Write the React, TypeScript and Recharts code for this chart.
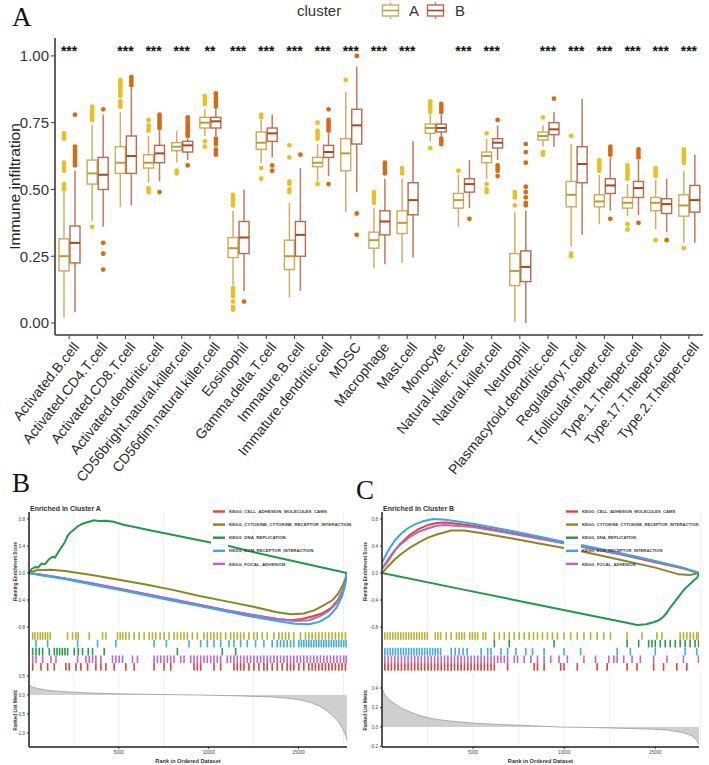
import React from 'react'
import {
  ComposedChart, Bar, XAxis, YAxis, ReferenceDot,
  LineChart, Line, ScatterChart, Scatter, AreaChart, Area, CartesianGrid,
} from 'recharts'

const SANS = '"Liberation Sans", Arial, sans-serif'
const SERIF = '"Liberation Serif", "Times New Roman", serif'

// ---------- immune infiltration (panel A) ----------
const cellTypes = [
  'Activated.B.cell', 'Activated.CD4.T.cell', 'Activated.CD8.T.cell', 'Activated.dendritic.cell',
  'CD56bright.natural.killer.cell', 'CD56dim.natural.killer.cell', 'Eosinophil', 'Gamma.delta.T.cell',
  'Immature.B.cell', 'Immature.dendritic.cell', 'MDSC', 'Macrophage', 'Mast.cell', 'Monocyte',
  'Natural.killer.T.cell', 'Natural.killer.cell', 'Neutrophil', 'Plasmacytoid.dendritic.cell',
  'Regulatory.T.cell', 'T.follicular.helper.cell', 'Type.1.T.helper.cell', 'Type.17.T.helper.cell',
  'Type.2.T.helper.cell',
]
const significance = [
  '***', '', '***', '***', '***', '**', '***', '***', '***', '***', '***', '***',
  '***', '', '***', '***', '', '***', '***', '***', '***', '***', '***',
]
// [lower whisker, Q1, median, Q3, upper whisker]
const clusterA = [
  [0.02, 0.195, 0.25, 0.315, 0.49], [0.38, 0.52, 0.56, 0.61, 0.74], [0.435, 0.56, 0.6, 0.66, 0.79],
  [0.525, 0.58, 0.6, 0.63, 0.7], [0.6, 0.645, 0.66, 0.675, 0.72], [0.7, 0.73, 0.75, 0.77, 0.8],
  [0.14, 0.245, 0.28, 0.32, 0.42], [0.6, 0.65, 0.675, 0.715, 0.76], [0.095, 0.2, 0.25, 0.31, 0.45],
  [0.53, 0.585, 0.6, 0.62, 0.67], [0.415, 0.57, 0.635, 0.69, 0.865], [0.205, 0.28, 0.31, 0.34, 0.43],
  [0.225, 0.335, 0.375, 0.42, 0.54], [0.68, 0.71, 0.73, 0.745, 0.78], [0.36, 0.43, 0.46, 0.485, 0.555],
  [0.54, 0.6, 0.625, 0.64, 0.69], [0.005, 0.14, 0.195, 0.26, 0.415], [0.66, 0.685, 0.7, 0.715, 0.74],
  [0.285, 0.435, 0.48, 0.53, 0.67], [0.37, 0.435, 0.455, 0.48, 0.555], [0.4, 0.43, 0.45, 0.47, 0.52],
  [0.35, 0.42, 0.45, 0.47, 0.535], [0.3, 0.4, 0.44, 0.48, 0.57],
]
const clusterB = [
  [0.04, 0.225, 0.3, 0.363, 0.57], [0.36, 0.5, 0.555, 0.62, 0.78], [0.44, 0.56, 0.625, 0.7, 0.88],
  [0.53, 0.6, 0.635, 0.665, 0.72], [0.61, 0.64, 0.665, 0.68, 0.69], [0.7, 0.73, 0.755, 0.77, 0.8],
  [0.12, 0.26, 0.32, 0.38, 0.5], [0.62, 0.68, 0.71, 0.73, 0.78], [0.12, 0.25, 0.33, 0.38, 0.58],
  [0.55, 0.62, 0.64, 0.665, 0.71], [0.49, 0.67, 0.74, 0.8, 0.96], [0.22, 0.33, 0.38, 0.42, 0.54],
  [0.245, 0.405, 0.46, 0.525, 0.68], [0.69, 0.715, 0.73, 0.745, 0.78], [0.43, 0.49, 0.52, 0.54, 0.61],
  [0.61, 0.655, 0.675, 0.69, 0.74], [0.0, 0.155, 0.21, 0.27, 0.42], [0.66, 0.705, 0.725, 0.75, 0.79],
  [0.33, 0.525, 0.595, 0.66, 0.84], [0.42, 0.485, 0.515, 0.54, 0.62], [0.405, 0.47, 0.505, 0.53, 0.61],
  [0.34, 0.41, 0.445, 0.465, 0.54], [0.3, 0.415, 0.46, 0.515, 0.63],
]
const outliersA = [
  [0.5, 0.51, 0.52, 0.57, 0.58, 0.59, 0.6, 0.69, 0.7, 0.71], [0.36, 0.76, 0.77, 0.78, 0.79, 0.8, 0.81],
  [0.81, 0.82, 0.83, 0.85, 0.86, 0.87, 0.88, 0.89, 0.9, 0.91], [0.49, 0.5, 0.505, 0.72, 0.73, 0.74, 0.76],
  [0.56, 0.57], [0.66, 0.68, 0.82, 0.83, 0.84, 0.85],
  [0.05, 0.06, 0.08, 0.1, 0.11, 0.12, 0.13, 0.44, 0.45, 0.46, 0.47, 0.48], [0.54, 0.58, 0.77, 0.78],
  [0.49, 0.5, 0.52, 0.53, 0.62, 0.665], [0.52, 0.69, 0.7, 0.71, 0.72, 0.75], [0.91],
  [0.45, 0.46, 0.47, 0.48, 0.49], [0.56, 0.57, 0.58], [0.655, 0.79, 0.8, 0.81, 0.82, 0.83], [0.57],
  [0.49, 0.5, 0.52, 0.71], [0.44, 0.47, 0.48, 0.49], [0.63, 0.64, 0.77], [0.25, 0.26, 0.7],
  [0.57, 0.58, 0.59, 0.6, 0.61], [0.35, 0.37, 0.54, 0.55, 0.56, 0.57, 0.58, 0.59],
  [0.31, 0.55, 0.56, 0.57, 0.58], [0.28, 0.6, 0.61, 0.62, 0.63, 0.64, 0.65],
]
const outliersB = [
  [0.59, 0.6, 0.61, 0.62, 0.63, 0.64, 0.65, 0.66, 0.78], [0.2, 0.26, 0.3, 0.8], [0.89, 0.9, 0.91, 0.92],
  [0.49, 0.73, 0.74, 0.75, 0.76, 0.77, 0.78], [0.59, 0.7, 0.71, 0.72, 0.73, 0.74, 0.75, 0.76, 0.77],
  [0.63, 0.64, 0.65, 0.67, 0.68, 0.69, 0.81, 0.82, 0.83, 0.84, 0.85, 0.86], [0.08], [0.57, 0.59],
  [0.63], [0.52, 0.72, 0.73, 0.74, 0.75, 0.76, 0.8], [0.33, 0.41, 1.0], [0.56, 0.57, 0.58, 0.59, 0.6],
  [], [0.67, 0.68, 0.69, 0.79, 0.8, 0.81, 0.82], [0.39], [0.55, 0.57, 0.58, 0.59, 0.76],
  [0.44, 0.45, 0.47, 0.49, 0.51, 0.6, 0.64, 0.67], [0.84], [], [0.39, 0.63, 0.64, 0.65, 0.66],
  [0.375, 0.62, 0.63, 0.64, 0.65], [0.31], [],
]
const infiltrationTicks = [0, 0.25, 0.5, 0.75, 1]

const boxRows = cellTypes.map((name, i) => ({
  name,
  sig: significance[i],
  aRange: [clusterA[i][0], clusterA[i][4]],
  bRange: [clusterB[i][0], clusterB[i][4]],
  aStats: clusterA[i],
  bStats: clusterB[i],
  aOut: outliersA[i],
  bOut: outliersB[i],
}))

const paletteA = { box: '#C9AB56', whisker: '#CDB163', median: '#BF9C2C', point: '#E9C11E' }
const paletteB = { box: '#B86A4A', whisker: '#BF7B60', median: '#A6461F', point: '#D96A10' }

// the range bar spans the whiskers; quartiles and outliers are placed on the same linear scale
const boxShape = (statsKey: string, outKey: string, pal: typeof paletteA) => (props: any) => {
  const { x, y, width, height, payload } = props
  const s: number[] = payload[statsKey]
  const out: number[] = payload[outKey]
  const top = Math.min(y, y + height)
  const bot = Math.max(y, y + height)
  const py = (v: number) => bot - ((v - s[0]) / (s[4] - s[0])) * (bot - top)
  const cx = x + width / 2
  return (
    <g>
      <line x1={cx} x2={cx} y1={py(s[4])} y2={py(s[3])} stroke={pal.whisker} strokeWidth={1.5} />
      <line x1={cx} x2={cx} y1={py(s[1])} y2={py(s[0])} stroke={pal.whisker} strokeWidth={1.5} />
      <rect x={x} y={py(s[3])} width={width} height={py(s[1]) - py(s[3])} fill="#fff" stroke={pal.box} strokeWidth={1.4} />
      <line x1={x} x2={x + width} y1={py(s[2])} y2={py(s[2])} stroke={pal.median} strokeWidth={2} />
      {out.map((v, k) => (
        <circle key={k} cx={cx} cy={py(v)} r={2.4} fill={pal.point} />
      ))}
    </g>
  )
}

function CellTick(props: any) {
  const { x, y, payload } = props
  return (
    <g transform={`translate(${x + 3},${y}) rotate(-51)`}>
      <text x={0} y={0} dy="0.72em" textAnchor="end" fontSize={14} fill="#2a2a2a" fontFamily={SANS}>
        {payload.value}
      </text>
    </g>
  )
}

function ClusterKey({ pal }: { pal: typeof paletteA }) {
  return (
    <svg width={19} height={19} style={{ display: 'block' }}>
      <line x1={9.5} x2={9.5} y1={1} y2={4} stroke={pal.whisker} strokeWidth={1.4} />
      <line x1={9.5} x2={9.5} y1={15} y2={18} stroke={pal.whisker} strokeWidth={1.4} />
      <rect x={1.5} y={4} width={16} height={11} fill="#fff" stroke={pal.box} strokeWidth={1.4} />
      <line x1={1.5} x2={17.5} y1={9.5} y2={9.5} stroke={pal.median} strokeWidth={1.6} />
    </svg>
  )
}

function InfiltrationPanel() {
  return (
    <div style={{ position: 'absolute', left: 0, top: 0 }}>
      <ComposedChart width={709} height={495} data={boxRows} margin={{ top: 38, right: 6, left: 0, bottom: 0 }} barSize={10} barGap={1}>
        <XAxis
          dataKey="name"
          interval={0}
          height={160}
          tick={<CellTick />}
          tickSize={4}
          axisLine={{ stroke: '#3a3a3a', strokeWidth: 1.6 }}
          tickLine={{ stroke: '#3a3a3a' }}
        />
        <YAxis
          type="number"
          domain={[-0.045, 1.067]}
          ticks={infiltrationTicks}
          tickFormatter={(v: number) => v.toFixed(2)}
          width={55}
          tickSize={4}
          tick={{ fontSize: 15, fill: '#333', fontFamily: SANS }}
          axisLine={{ stroke: '#3a3a3a', strokeWidth: 1.6 }}
          tickLine={{ stroke: '#3a3a3a' }}
          label={{
            value: 'Immune infiltration', angle: -90, position: 'insideLeft', offset: 14,
            style: { textAnchor: 'middle', fontSize: 15.5, fill: '#222', fontFamily: SANS },
          }}
        />
        <Bar dataKey="aRange" shape={boxShape('aStats', 'aOut', paletteA)} isAnimationActive={false} />
        <Bar dataKey="bRange" shape={boxShape('bStats', 'bOut', paletteB)} isAnimationActive={false} />
        {boxRows.filter(r => r.sig).map(r => (
          <ReferenceDot
            key={r.name}
            x={r.name}
            y={1.03}
            r={1}
            fill="none"
            stroke="none"
            label={(p: any) => {
              const vb = p.viewBox
              return (
                <text x={vb.x + vb.width / 2} y={vb.y + vb.height / 2 + 8} textAnchor="middle" fontSize={14} fontWeight="bold" fill="#111" fontFamily={SANS}>
                  {r.sig}
                </text>
              )
            }}
          />
        ))}
      </ComposedChart>
      <div style={{ position: 'absolute', left: 12, top: 4, lineHeight: 1, fontFamily: SERIF, fontSize: 27, color: '#111' }}>A</div>
      <div style={{ position: 'absolute', left: 297, top: 1, display: 'flex', alignItems: 'center', fontFamily: SANS, fontSize: 15, color: '#333' }}>
        <span style={{ width: 84 }}>cluster</span>
        <ClusterKey pal={paletteA} />
        <span style={{ margin: '0 7px 0 9px' }}>A</span>
        <ClusterKey pal={paletteB} />
        <span style={{ marginLeft: 10 }}>B</span>
      </div>
    </div>
  )
}

// ---------- GSEA (panels B and C) ----------
const gseaSets = [
  'KEGG_CELL_ADHESION_MOLECULES_CAMS',
  'KEGG_CYTOKINE_CYTOKINE_RECEPTOR_INTERACTION',
  'KEGG_DNA_REPLICATION',
  'KEGG_ECM_RECEPTOR_INTERACTION',
  'KEGG_FOCAL_ADHESION',
]
const gseaColors = ['#E2443A', '#8A881C', '#1F9A4B', '#34A9E6', '#B565CB']
const hitColors = ['#D9453A', '#B7B32E', '#2A9A52', '#3FAEE8', '#B96CCB']
const esTicks = [-0.8, -0.4, 0, 0.4, 0.8]
const gridRanks = [2500, 5000, 7500, 10000, 12500, 15000, 17500]
const rankTicks = [5000, 10000, 15000]

// running enrichment scores, [rank, score]
const bCellAdhesion: [number, number][] = [[0, 0], [800, -0.03], [2000, -0.08], [3500, -0.155], [5000, -0.235], [6500, -0.315], [8000, -0.395], [9500, -0.475], [11000, -0.555], [12500, -0.625], [13800, -0.68], [14600, -0.7], [15200, -0.68], [15800, -0.64], [16300, -0.6], [16800, -0.52], [17200, -0.4], [17500, -0.24], [17700, 0]]
const bCytokine: [number, number][] = [[0, 0], [400, 0.04], [1200, 0.05], [2000, 0.03], [3500, -0.03], [5000, -0.1], [6500, -0.17], [8000, -0.25], [9500, -0.34], [11000, -0.42], [12500, -0.5], [13800, -0.58], [14600, -0.61], [15300, -0.6], [15900, -0.55], [16400, -0.48], [16900, -0.4], [17200, -0.31], [17450, -0.19], [17600, -0.09], [17700, 0]]
const bDnaReplication: [number, number][] = [[0, 0], [150, 0.06], [350, 0.09], [500, 0.08], [700, 0.14], [900, 0.13], [1100, 0.2], [1300, 0.24], [1450, 0.23], [1650, 0.32], [1850, 0.4], [2000, 0.46], [2150, 0.55], [2300, 0.6], [2450, 0.63], [2700, 0.69], [2900, 0.72], [3100, 0.74], [3350, 0.76], [3600, 0.78], [3900, 0.77], [4300, 0.775], [4700, 0.76], [5200, 0.72], [7000, 0.62], [9000, 0.51], [10300, 0.44], [10500, 0.445], [12000, 0.34], [14000, 0.22], [16000, 0.1], [17700, 0]]
const bEcm: [number, number][] = [[0, 0], [800, -0.04], [2000, -0.09], [3500, -0.17], [5000, -0.25], [6500, -0.33], [8000, -0.41], [9500, -0.49], [11000, -0.57], [12500, -0.65], [13800, -0.71], [14800, -0.75], [15600, -0.76], [16200, -0.72], [16700, -0.64], [17100, -0.52], [17400, -0.36], [17600, -0.18], [17700, 0]]
const bFocalAdhesion: [number, number][] = [[0, 0], [800, -0.03], [2000, -0.08], [3500, -0.15], [5000, -0.23], [6500, -0.31], [8000, -0.39], [9500, -0.47], [11000, -0.55], [12500, -0.62], [13800, -0.68], [14800, -0.71], [15600, -0.7], [16200, -0.64], [16700, -0.56], [17100, -0.45], [17400, -0.3], [17600, -0.14], [17700, 0]]

const cCellAdhesion: [number, number][] = [[0, 0.07], [300, 0.17], [700, 0.33], [1000, 0.43], [1500, 0.56], [2000, 0.65], [2500, 0.71], [3000, 0.74], [3500, 0.75], [5000, 0.7], [7000, 0.6], [9000, 0.5], [10000, 0.44], [11000, 0.39], [13000, 0.28], [15000, 0.16], [16500, 0.07], [17400, 0]]
const cCytokine: [number, number][] = [[0, 0], [300, 0.09], [700, 0.2], [1000, 0.27], [1500, 0.37], [2000, 0.45], [2500, 0.52], [3000, 0.57], [3800, 0.63], [4500, 0.63], [5500, 0.59], [7000, 0.52], [9000, 0.42], [10000, 0.37], [11000, 0.32], [13000, 0.2], [15000, 0.08], [16300, -0.02], [16900, -0.03], [17400, 0]]
const cDnaReplication: [number, number][] = [[0, 0], [4000, -0.22], [8000, -0.44], [12000, -0.66], [13500, -0.74], [14000, -0.77], [14500, -0.76], [14900, -0.73], [15200, -0.7], [15400, -0.66], [15600, -0.6], [15800, -0.52], [16000, -0.45], [16200, -0.38], [16400, -0.31], [16600, -0.24], [16800, -0.19], [17000, -0.14], [17200, -0.09], [17300, -0.07], [17400, 0]]
const cEcm: [number, number][] = [[0, 0.15], [200, 0.26], [400, 0.36], [700, 0.48], [1000, 0.57], [1400, 0.66], [1800, 0.72], [2300, 0.77], [2800, 0.8], [3500, 0.79], [5000, 0.73], [7000, 0.63], [9000, 0.52], [10000, 0.46], [11000, 0.41], [13000, 0.3], [15000, 0.18], [16500, 0.08], [17400, 0]]
const cFocalAdhesion: [number, number][] = [[0, 0.06], [300, 0.19], [700, 0.34], [1000, 0.42], [1500, 0.53], [2000, 0.61], [2500, 0.66], [3000, 0.7], [3500, 0.71], [5000, 0.68], [7000, 0.59], [9000, 0.49], [10000, 0.44], [11000, 0.39], [13000, 0.29], [15000, 0.17], [16500, 0.08], [17400, 0]]

// gene-set member positions in the ranked list
const bHitsCellAdhesion = [204, 667, 1037, 1407, 2056, 2241, 2611, 2889, 3259, 3722, 4000, 4278, 4741, 5389, 5852, 6963, 7519, 7889, 9185, 9370, 9556, 10296, 10667, 11407, 11593, 11778, 11963, 12241, 12519, 12796, 13074, 13259, 13537, 13815, 14093, 14370, 14556, 14741, 15019, 15296, 15574, 15759, 15944, 16130, 16315, 16500, 16685, 16870, 17056, 17241, 17426, 17611]
const bHitsCytokine = [204, 333, 481, 630, 759, 907, 1037, 1185, 2148, 2426, 2611, 2741, 3352, 4093, 4278, 4926, 5074, 5222, 5389, 5574, 5852, 6130, 6407, 6685, 6870, 7056, 7296, 7519, 7796, 8074, 8259, 8444, 8630, 8815, 9093, 9370, 9741, 9926, 10111, 10296, 10481, 10667, 10944, 11222, 11407, 11593, 11778, 11963, 12241, 12519, 12704, 12981, 13259, 13630, 13907, 14093, 14278, 14463, 14741, 15111, 15389, 15574, 15759, 15944, 16130, 16315, 16500, 16685, 16870, 17056, 17241, 17426, 17611]
const bHitsDnaReplication = [204, 389, 574, 759, 1130, 1407, 1556, 1704, 1852, 2000, 2148, 2519, 2741, 2981, 3296, 3537, 4185, 8259, 10759, 11500]
const bHitsEcm = [389, 1037, 2704, 3815, 4833, 6963, 7648, 8907, 9556, 9926, 10296, 10667, 11130, 11407, 11778, 12148, 12611, 13074, 13537, 13815, 14000, 14185, 14370, 14556, 14741, 15019, 15160, 15296, 15435, 15574, 15710, 15852, 15990, 16130, 16270, 16407, 16545, 16685, 16825, 16963, 17100, 17241, 17380, 17519, 17650]
const bHitsFocalAdhesion = [204, 389, 759, 1222, 1500, 2704, 3167, 3352, 3537, 3722, 4000, 4648, 4833, 5019, 5204, 5759, 6037, 6963, 7148, 7333, 7519, 7704, 7889, 8074, 8444, 8630, 9000, 9185, 9370, 9556, 9741, 9926, 10111, 10296, 10481, 10667, 11037, 11222, 11407, 11593, 11778, 11963, 12148, 12333, 12519, 12704, 12889, 13074, 13259, 13444, 13630, 13815, 14000, 14185, 14370, 14556, 14741, 14926, 15111, 15296, 15481, 15667, 15852, 16037, 16222, 16407, 16593, 16778, 16963, 17148, 17333, 17519, 17650]

const cHitsCellAdhesion = [155, 337, 519, 701, 883, 1066, 1248, 1430, 1612, 1794, 1976, 2158, 2341, 2523, 2705, 2887, 3069, 3251, 3434, 3616, 3798, 3980, 4162, 4344, 4526, 4709, 4891, 5073, 5255, 5437, 5619, 5801, 5984, 6166, 6894, 8352, 8534, 8898, 9809, 9991, 10719, 11812, 12359, 13452, 13998, 14909, 15455, 16184, 16730]
const cHitsCytokine = [155, 301, 446, 592, 738, 883, 1029, 1175, 1321, 1466, 1612, 1758, 1903, 2049, 2195, 2341, 2486, 2923, 3069, 3215, 3525, 3798, 4089, 4235, 4381, 4526, 4818, 4964, 5109, 5255, 5546, 5692, 6166, 6439, 6712, 6986, 7259, 7532, 7805, 8078, 8315, 8534, 8807, 9080, 9353, 9627, 9991, 10355, 10719, 11084, 11448, 11812, 12177, 12541, 13452, 14271, 15091, 15364, 16366, 16548, 16730, 16913, 17095, 17277, 17380]
const cHitsDnaReplication = [6166, 6986, 9444, 13452, 14089, 14636, 14818, 15000, 15273, 15546, 15820, 16093, 16366, 16639, 16913, 17186, 17380]
const cHitsEcm = [155, 301, 446, 592, 738, 883, 1029, 1175, 1321, 1466, 1612, 1758, 1903, 2049, 2195, 2341, 2486, 2632, 2778, 2923, 3069, 3215, 3798, 4016, 4235, 4454, 4672, 5437, 5801, 5984, 6530, 6894, 7350, 7896, 8260, 8898, 9991, 10902, 12905, 13634, 15000, 16639, 17277]
const cHitsFocalAdhesion = [155, 337, 519, 701, 883, 1066, 1248, 1430, 1612, 1794, 1976, 2158, 2341, 2523, 2705, 2887, 3069, 3251, 3434, 3616, 3798, 3980, 4162, 4344, 4526, 4709, 4891, 5073, 5255, 5437, 5619, 5801, 5984, 6166, 6348, 6530, 6712, 6894, 7259, 7441, 7805, 8169, 8534, 8898, 9262, 9718, 10173, 11084, 11721, 12450, 12723, 12905, 13270, 13725, 14180, 14909, 15638, 16548, 17368]

// ranked list metric, [rank, metric]
const bRankedMetric: [number, number][] = [[0, 0.27], [150, 0.22], [400, 0.18], [900, 0.13], [1600, 0.1], [2300, 0.08], [3500, 0.05], [5100, 0.03], [7000, 0.015], [9500, 0], [11500, -0.02], [13400, -0.05], [14300, -0.08], [15100, -0.13], [15700, -0.2], [16200, -0.3], [16600, -0.42], [16950, -0.57], [17250, -0.72], [17500, -0.92], [17650, -1.1], [17700, -1.2]]
const cRankedMetric: [number, number][] = [[0, 0.4], [150, 0.33], [400, 0.28], [700, 0.24], [1100, 0.19], [1600, 0.15], [2200, 0.11], [2900, 0.08], [3800, 0.06], [5000, 0.04], [6500, 0.025], [8000, 0.015], [9800, 0], [11500, -0.005], [13000, -0.012], [14500, -0.02], [15600, -0.03], [16500, -0.055], [17000, -0.09], [17250, -0.13], [17400, -0.18]]

// hit row heights, top to bottom
const hitRowLevels = [4.85, 3.85, 2.8, 1.8, 0.8]

type GseaProps = {
  left: number
  width: number
  axisW: number
  right: number
  maxRank: number
  title: string
  label: string
  labelLeft: number
  labelTop: number
  curves: [number, number][][]
  hits: number[][]
  rowOrder: number[]
  metric: [number, number][]
  metricDomain: [number, number]
  metricTicks: number[]
  legendX: number
  legendFont: number
}

const axisLineStyle = { stroke: '#1e1e1e', strokeWidth: 1.5 }
const tinyTick = { fontSize: 4.5, fill: '#444', fontFamily: SANS }
const tinyTitle = (value: string) => ({
  value, angle: -90, position: 'insideLeft' as const, offset: 15,
  style: { textAnchor: 'middle', fontSize: 4.6, fontWeight: 'bold', fill: '#333', fontFamily: SANS },
})

function GseaPanel(p: GseaProps) {
  const xDomain: [number, number] = [0, p.maxRank]
  const drawOrder = [1, 0, 4, 3, 2]
  return (
    <div style={{ position: 'absolute', left: p.left, top: 500, width: p.width, height: 265 }}>
      <div style={{ position: 'absolute', left: 0, top: 0 }}>
        <LineChart width={p.width} height={131} margin={{ top: 12, right: p.right, bottom: 0, left: 0 }}>
          <CartesianGrid horizontal={false} verticalValues={gridRanks} stroke="#efefef" />
          <XAxis type="number" dataKey="rank" domain={xDomain} allowDataOverflow hide />
          <YAxis
            type="number"
            domain={[-0.859, 0.904]}
            ticks={esTicks}
            tickFormatter={(v: number) => v.toFixed(1)}
            width={p.axisW}
            tickSize={2}
            tick={tinyTick}
            axisLine={axisLineStyle}
            tickLine={{ stroke: '#333' }}
            label={tinyTitle('Running Enrichment Score')}
          />
          {drawOrder.map(k => (
            <Line
              key={k}
              data={p.curves[k].map(([rank, es]) => ({ rank, es }))}
              dataKey="es"
              type="linear"
              stroke={gseaColors[k]}
              strokeWidth={2}
              dot={false}
              isAnimationActive={false}
            />
          ))}
        </LineChart>
      </div>
      <div style={{ position: 'absolute', left: 0, top: 131 }}>
        <ScatterChart width={p.width} height={42} margin={{ top: 0, right: p.right, bottom: 0, left: 0 }}>
          <XAxis type="number" dataKey="rank" domain={xDomain} allowDataOverflow hide />
          <YAxis type="number" dataKey="row" domain={[0, 5.5]} width={p.axisW} tick={false} tickLine={false} axisLine={axisLineStyle} />
          {p.rowOrder.map((k, row) => (
            <Scatter
              key={k}
              data={p.hits[k].map(rank => ({ rank, row: hitRowLevels[row] }))}
              isAnimationActive={false}
              shape={(s: any) => <rect x={s.cx - 0.8} y={s.cy - 3.8} width={1.6} height={7.6} fill={hitColors[k]} />}
            />
          ))}
        </ScatterChart>
      </div>
      <div style={{ position: 'absolute', left: 0, top: 173 }}>
        <AreaChart width={p.width} height={92} data={p.metric.map(([rank, m]) => ({ rank, m }))} margin={{ top: 0, right: p.right, bottom: 0, left: 0 }}>
          <CartesianGrid horizontal={false} verticalValues={gridRanks} stroke="#efefef" />
          <XAxis
            type="number"
            dataKey="rank"
            domain={xDomain}
            ticks={rankTicks}
            height={18}
            tickSize={2}
            tick={tinyTick}
            axisLine={axisLineStyle}
            tickLine={{ stroke: '#333' }}
            label={{ value: 'Rank in Ordered Dataset', position: 'insideBottom', offset: 2, style: { fontSize: 5.6, fontWeight: 'bold', fill: '#333', fontFamily: SANS } }}
          />
          <YAxis
            type="number"
            domain={p.metricDomain}
            ticks={p.metricTicks}
            tickFormatter={(v: number) => v.toFixed(1)}
            width={p.axisW}
            tickSize={2}
            tick={tinyTick}
            axisLine={axisLineStyle}
            tickLine={{ stroke: '#333' }}
            label={tinyTitle('Ranked List Metric')}
          />
          <Area type="linear" dataKey="m" baseValue={0} stroke="#9c9c9c" strokeWidth={0.8} fill="#cfcfcf" fillOpacity={1} isAnimationActive={false} />
        </AreaChart>
      </div>
      <svg width={p.width} height={80} style={{ position: 'absolute', left: 0, top: 0, pointerEvents: 'none' }}>
        <text x={p.axisW + 1} y={10.5} fontSize={7} fontWeight="bold" fill="#333" fontFamily={SANS}>{p.title}</text>
        {gseaSets.map((name, k) => {
          const cy = 11.5 + k * 13.1
          return (
            <g key={name}>
              <rect x={p.legendX - 2} y={cy - 6.6} width={17} height={13.2} fill="#fff" />
              <line x1={p.legendX} x2={p.legendX + 12} y1={cy} y2={cy} stroke={gseaColors[k]} strokeWidth={2.4} />
              <text x={p.legendX + 16} y={cy + 1.6} fontSize={p.legendFont} fontWeight="bold" fill="#3a3a3a" fontFamily={SANS}>{name}</text>
            </g>
          )
        })}
      </svg>
      <div style={{ position: 'absolute', left: p.labelLeft, top: p.labelTop, lineHeight: 1, fontFamily: SERIF, fontSize: 27, color: '#111' }}>{p.label}</div>
    </div>
  )
}

export default function App() {
  return (
    <div style={{ position: 'absolute', left: 0, top: 0, width: 709, height: 765, background: '#fff', overflow: 'hidden', fontFamily: SANS }}>
      <InfiltrationPanel />
      <GseaPanel
        left={0}
        width={360}
        axisW={29}
        right={13}
        maxRank={17700}
        title="Enriched in Cluster A"
        label="B"
        labelLeft={12}
        labelTop={-30}
        curves={[bCellAdhesion, bCytokine, bDnaReplication, bEcm, bFocalAdhesion]}
        hits={[bHitsCellAdhesion, bHitsCytokine, bHitsDnaReplication, bHitsEcm, bHitsFocalAdhesion]}
        rowOrder={[1, 3, 2, 4, 0]}
        metric={bRankedMetric}
        metricDomain={[-1.368, 0.579]}
        metricTicks={[-1, -0.5, 0, 0.5]}
        legendX={213}
        legendFont={4.4}
      />
      <GseaPanel
        left={350}
        width={359}
        axisW={32}
        right={10}
        maxRank={17400}
        title="Enriched in Cluster B"
        label="C"
        labelLeft={6}
        labelTop={-23}
        curves={[cCellAdhesion, cCytokine, cDnaReplication, cEcm, cFocalAdhesion]}
        hits={[cHitsCellAdhesion, cHitsCytokine, cHitsDnaReplication, cHitsEcm, cHitsFocalAdhesion]}
        rowOrder={[1, 2, 3, 4, 0]}
        metric={cRankedMetric}
        metricDomain={[-0.205, 0.554]}
        metricTicks={[-0.2, 0, 0.2, 0.4]}
        legendX={216}
        legendFont={4.2}
      />
    </div>
  )
}
